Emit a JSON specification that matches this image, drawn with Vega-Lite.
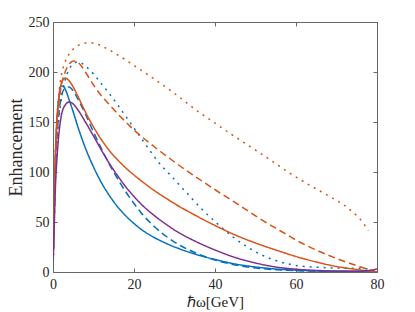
{
  "$schema": "https://vega.github.io/schema/vega-lite/v6.json",
  "autosize": {"type": "none"},
  "padding": {"left": 53, "top": 22, "right": 38, "bottom": 40},
  "width": 324,
  "height": 250,
  "background": "white",
  "config": {
    "view": {"stroke": null},
    "axis": {
      "labelFont": "Liberation Serif",
      "labelFontSize": 14,
      "labelColor": "#262626",
      "titleFont": "Liberation Serif",
      "titleFontSize": 16,
      "titleFontWeight": "normal",
      "titleColor": "#262626",
      "domainColor": "#666666",
      "domainWidth": 1,
      "tickColor": "#666666",
      "tickWidth": 1,
      "grid": false
    }
  },
  "datasets": {
    "curves": [
      {"model":"M1","case":"a","x":0.05,"y":15},{"model":"M1","case":"a","x":0.3,"y":70},{"model":"M1","case":"a","x":0.6,"y":120},{"model":"M1","case":"a","x":1,"y":155},{"model":"M1","case":"a","x":1.5,"y":177},{"model":"M1","case":"a","x":2,"y":186},{"model":"M1","case":"a","x":2.5,"y":186},{"model":"M1","case":"a","x":3,"y":183},{"model":"M1","case":"a","x":4,"y":172},{"model":"M1","case":"a","x":5,"y":160},{"model":"M1","case":"a","x":6,"y":147},{"model":"M1","case":"a","x":7,"y":135},{"model":"M1","case":"a","x":8,"y":124},{"model":"M1","case":"a","x":10,"y":105},{"model":"M1","case":"a","x":12,"y":89},{"model":"M1","case":"a","x":14,"y":76},{"model":"M1","case":"a","x":16,"y":65},{"model":"M1","case":"a","x":18,"y":56},{"model":"M1","case":"a","x":20,"y":48.5},{"model":"M1","case":"a","x":22,"y":42},{"model":"M1","case":"a","x":25,"y":34.5},{"model":"M1","case":"a","x":28,"y":28.5},{"model":"M1","case":"a","x":31,"y":23.5},{"model":"M1","case":"a","x":35,"y":18},{"model":"M1","case":"a","x":40,"y":12.5},{"model":"M1","case":"a","x":45,"y":8},{"model":"M1","case":"a","x":50,"y":5},{"model":"M1","case":"a","x":55,"y":3},{"model":"M1","case":"a","x":60,"y":1.8},{"model":"M1","case":"a","x":70,"y":0.6},{"model":"M1","case":"a","x":80,"y":0},

      {"model":"M1","case":"b","x":0.05,"y":12},{"model":"M1","case":"b","x":0.3,"y":55},{"model":"M1","case":"b","x":0.6,"y":100},{"model":"M1","case":"b","x":1,"y":135},{"model":"M1","case":"b","x":1.5,"y":160},{"model":"M1","case":"b","x":2,"y":174},{"model":"M1","case":"b","x":3,"y":184},{"model":"M1","case":"b","x":4,"y":185},{"model":"M1","case":"b","x":5,"y":181},{"model":"M1","case":"b","x":6,"y":174},{"model":"M1","case":"b","x":8,"y":158},{"model":"M1","case":"b","x":10,"y":140},{"model":"M1","case":"b","x":12,"y":123},{"model":"M1","case":"b","x":14,"y":107},{"model":"M1","case":"b","x":16,"y":93},{"model":"M1","case":"b","x":18,"y":80},{"model":"M1","case":"b","x":20,"y":68.5},{"model":"M1","case":"b","x":22,"y":58},{"model":"M1","case":"b","x":25,"y":45.5},{"model":"M1","case":"b","x":28,"y":35.5},{"model":"M1","case":"b","x":31,"y":27.5},{"model":"M1","case":"b","x":35,"y":19.5},{"model":"M1","case":"b","x":40,"y":12},{"model":"M1","case":"b","x":45,"y":7},{"model":"M1","case":"b","x":50,"y":4},{"model":"M1","case":"b","x":55,"y":2.3},{"model":"M1","case":"b","x":60,"y":1.3},{"model":"M1","case":"b","x":70,"y":0.5},{"model":"M1","case":"b","x":80,"y":0},

      {"model":"M1","case":"c","x":0.05,"y":10},{"model":"M1","case":"c","x":0.3,"y":50},{"model":"M1","case":"c","x":0.6,"y":95},{"model":"M1","case":"c","x":1,"y":130},{"model":"M1","case":"c","x":1.5,"y":155},{"model":"M1","case":"c","x":2,"y":172},{"model":"M1","case":"c","x":3,"y":192},{"model":"M1","case":"c","x":4,"y":203},{"model":"M1","case":"c","x":5,"y":208},{"model":"M1","case":"c","x":6,"y":210},{"model":"M1","case":"c","x":7,"y":209},{"model":"M1","case":"c","x":8,"y":206},{"model":"M1","case":"c","x":10,"y":198},{"model":"M1","case":"c","x":12,"y":188},{"model":"M1","case":"c","x":14,"y":178},{"model":"M1","case":"c","x":16,"y":167},{"model":"M1","case":"c","x":18,"y":155.5},{"model":"M1","case":"c","x":20,"y":144},{"model":"M1","case":"c","x":22,"y":132.5},{"model":"M1","case":"c","x":24,"y":121},{"model":"M1","case":"c","x":26,"y":110},{"model":"M1","case":"c","x":28.5,"y":99},{"model":"M1","case":"c","x":31,"y":88},{"model":"M1","case":"c","x":33.5,"y":77},{"model":"M1","case":"c","x":36,"y":66},{"model":"M1","case":"c","x":38.9,"y":54.5},{"model":"M1","case":"c","x":41.8,"y":44},{"model":"M1","case":"c","x":44.6,"y":34.5},{"model":"M1","case":"c","x":47.8,"y":25.5},{"model":"M1","case":"c","x":50.8,"y":18.5},{"model":"M1","case":"c","x":54.1,"y":12.7},{"model":"M1","case":"c","x":57.6,"y":8.5},{"model":"M1","case":"c","x":60,"y":6.5},{"model":"M1","case":"c","x":65,"y":4.8},{"model":"M1","case":"c","x":70,"y":4},{"model":"M1","case":"c","x":76,"y":3.7},{"model":"M1","case":"c","x":80,"y":1},

      {"model":"M2","case":"a","x":0.05,"y":15},{"model":"M2","case":"a","x":0.3,"y":70},{"model":"M2","case":"a","x":0.6,"y":115},{"model":"M2","case":"a","x":1,"y":150},{"model":"M2","case":"a","x":1.5,"y":175},{"model":"M2","case":"a","x":2,"y":188},{"model":"M2","case":"a","x":3,"y":194},{"model":"M2","case":"a","x":4,"y":191},{"model":"M2","case":"a","x":5,"y":185},{"model":"M2","case":"a","x":6,"y":177},{"model":"M2","case":"a","x":8,"y":160},{"model":"M2","case":"a","x":10,"y":145},{"model":"M2","case":"a","x":12,"y":132},{"model":"M2","case":"a","x":14,"y":121},{"model":"M2","case":"a","x":16,"y":112},{"model":"M2","case":"a","x":18,"y":104},{"model":"M2","case":"a","x":20,"y":97},{"model":"M2","case":"a","x":22,"y":90.5},{"model":"M2","case":"a","x":25,"y":81.5},{"model":"M2","case":"a","x":28,"y":73.5},{"model":"M2","case":"a","x":31,"y":66},{"model":"M2","case":"a","x":35,"y":57},{"model":"M2","case":"a","x":40,"y":46.5},{"model":"M2","case":"a","x":45,"y":37},{"model":"M2","case":"a","x":50,"y":29},{"model":"M2","case":"a","x":55,"y":22},{"model":"M2","case":"a","x":60,"y":15.5},{"model":"M2","case":"a","x":65,"y":10},{"model":"M2","case":"a","x":70,"y":5.5},{"model":"M2","case":"a","x":75,"y":2.5},{"model":"M2","case":"a","x":80,"y":0},

      {"model":"M2","case":"b","x":0.05,"y":12},{"model":"M2","case":"b","x":0.3,"y":60},{"model":"M2","case":"b","x":0.6,"y":110},{"model":"M2","case":"b","x":1,"y":145},{"model":"M2","case":"b","x":1.5,"y":170},{"model":"M2","case":"b","x":2,"y":185},{"model":"M2","case":"b","x":3,"y":200},{"model":"M2","case":"b","x":4,"y":208},{"model":"M2","case":"b","x":5,"y":211},{"model":"M2","case":"b","x":6,"y":210},{"model":"M2","case":"b","x":7,"y":206},{"model":"M2","case":"b","x":8,"y":200},{"model":"M2","case":"b","x":10,"y":187},{"model":"M2","case":"b","x":12,"y":176},{"model":"M2","case":"b","x":14,"y":167},{"model":"M2","case":"b","x":16,"y":158},{"model":"M2","case":"b","x":18,"y":150},{"model":"M2","case":"b","x":20,"y":142},{"model":"M2","case":"b","x":22,"y":135},{"model":"M2","case":"b","x":24,"y":128.5},{"model":"M2","case":"b","x":26.5,"y":120.5},{"model":"M2","case":"b","x":29,"y":113},{"model":"M2","case":"b","x":31,"y":107},{"model":"M2","case":"b","x":36.4,"y":92},{"model":"M2","case":"b","x":40.5,"y":81},{"model":"M2","case":"b","x":46.3,"y":66},{"model":"M2","case":"b","x":51.2,"y":53},{"model":"M2","case":"b","x":56.2,"y":41},{"model":"M2","case":"b","x":61.1,"y":29.5},{"model":"M2","case":"b","x":66.1,"y":20},{"model":"M2","case":"b","x":71,"y":12},{"model":"M2","case":"b","x":76,"y":5},{"model":"M2","case":"b","x":80,"y":0},

      {"model":"M2","case":"c","x":0.05,"y":15},{"model":"M2","case":"c","x":0.3,"y":70},{"model":"M2","case":"c","x":0.6,"y":120},{"model":"M2","case":"c","x":1,"y":155},{"model":"M2","case":"c","x":1.5,"y":180},{"model":"M2","case":"c","x":2,"y":195},{"model":"M2","case":"c","x":3,"y":210},{"model":"M2","case":"c","x":4,"y":218},{"model":"M2","case":"c","x":5,"y":223},{"model":"M2","case":"c","x":6,"y":226},{"model":"M2","case":"c","x":7,"y":228},{"model":"M2","case":"c","x":8.5,"y":229},{"model":"M2","case":"c","x":10,"y":229},{"model":"M2","case":"c","x":12,"y":226},{"model":"M2","case":"c","x":15,"y":219.5},{"model":"M2","case":"c","x":17.6,"y":213},{"model":"M2","case":"c","x":20,"y":206.5},{"model":"M2","case":"c","x":22.8,"y":199},{"model":"M2","case":"c","x":25,"y":193},{"model":"M2","case":"c","x":28.5,"y":183},{"model":"M2","case":"c","x":31,"y":175.5},{"model":"M2","case":"c","x":33.4,"y":168},{"model":"M2","case":"c","x":36,"y":160},{"model":"M2","case":"c","x":38.9,"y":152},{"model":"M2","case":"c","x":43,"y":140.5},{"model":"M2","case":"c","x":47.7,"y":128},{"model":"M2","case":"c","x":52,"y":116.5},{"model":"M2","case":"c","x":55.7,"y":106.5},{"model":"M2","case":"c","x":58,"y":100},{"model":"M2","case":"c","x":61,"y":92.5},{"model":"M2","case":"c","x":64.6,"y":84},{"model":"M2","case":"c","x":68.3,"y":75.5},{"model":"M2","case":"c","x":72,"y":66.5},{"model":"M2","case":"c","x":74,"y":60},{"model":"M2","case":"c","x":75.8,"y":53},{"model":"M2","case":"c","x":77.9,"y":41.5},

      {"model":"M3","case":"a","x":0.05,"y":12},{"model":"M3","case":"a","x":0.3,"y":45},{"model":"M3","case":"a","x":0.6,"y":85},{"model":"M3","case":"a","x":1,"y":115},{"model":"M3","case":"a","x":1.5,"y":140},{"model":"M3","case":"a","x":2,"y":155},{"model":"M3","case":"a","x":3,"y":167},{"model":"M3","case":"a","x":4,"y":170},{"model":"M3","case":"a","x":5,"y":168},{"model":"M3","case":"a","x":6,"y":163},{"model":"M3","case":"a","x":8,"y":150},{"model":"M3","case":"a","x":10,"y":136},{"model":"M3","case":"a","x":12,"y":121.5},{"model":"M3","case":"a","x":14,"y":108},{"model":"M3","case":"a","x":16,"y":96},{"model":"M3","case":"a","x":18,"y":85},{"model":"M3","case":"a","x":20,"y":75.5},{"model":"M3","case":"a","x":22,"y":67},{"model":"M3","case":"a","x":25,"y":56.5},{"model":"M3","case":"a","x":28,"y":47.5},{"model":"M3","case":"a","x":31,"y":39.5},{"model":"M3","case":"a","x":35,"y":31},{"model":"M3","case":"a","x":40,"y":22},{"model":"M3","case":"a","x":45,"y":14.5},{"model":"M3","case":"a","x":50,"y":9},{"model":"M3","case":"a","x":55,"y":5},{"model":"M3","case":"a","x":60,"y":2.8},{"model":"M3","case":"a","x":65,"y":1.6},{"model":"M3","case":"a","x":70,"y":1},{"model":"M3","case":"a","x":75,"y":1},{"model":"M3","case":"a","x":78,"y":1.5},{"model":"M3","case":"a","x":80,"y":3}
    ]
  },
  "data": {"name": "curves"},
  "encoding": {
    "x": {"field": "x", "type": "quantitative", "scale": {"domain": [0, 80], "nice": false, "zero": false}},
    "y": {"field": "y", "type": "quantitative", "scale": {"domain": [0, 250], "nice": false}}
  },
  "layer": [
    {
      "mark": {"type": "line", "clip": true, "interpolate": "monotone"},
      "encoding": {
        "x": {"field": "x", "type": "quantitative", "axis": {"title": "ℏω[GeV]", "titleFontSize": 15, "values": [0,20,40,60,80], "tickSize": -4, "labelPadding": 9, "titlePadding": 3, "labelFlush": false}},
        "y": {"field": "y", "type": "quantitative", "axis": {"title": "Enhancement", "titleFontSize": 18, "values": [0,50,100,150,200,250], "tickSize": -4, "labelPadding": 8, "titlePadding": 3}},
        "color": {"field": "model", "type": "nominal", "scale": {"domain": ["M1","M2","M3"], "range": ["#0072BD","#D95319","#7E2F8E"]}, "legend": null},
        "strokeDash": {"field": "case", "type": "nominal", "scale": {"domain": ["a","b","c"], "range": [[1,0],[7,4],[2,5]]}, "legend": null},
        "strokeWidth": {"field": "case", "type": "nominal", "scale": {"domain": ["a","b","c"], "range": [1.5,1.5,2]}, "legend": null},
        "detail": {"field": "model"}
      }
    },
    {
      "mark": {"type": "line", "opacity": 0},
      "encoding": {
        "x": {"field": "x", "type": "quantitative", "axis": {"orient": "top", "title": null, "labels": false, "values": [0,20,40,60,80], "tickSize": -4}},
        "y": {"field": "y", "type": "quantitative", "axis": {"orient": "right", "title": null, "labels": false, "values": [0,50,100,150,200,250], "tickSize": -4}},
        "detail": {"field": "model"}
      }
    }
  ],
  "resolve": {"axis": {"x": "independent", "y": "independent"}}
}
